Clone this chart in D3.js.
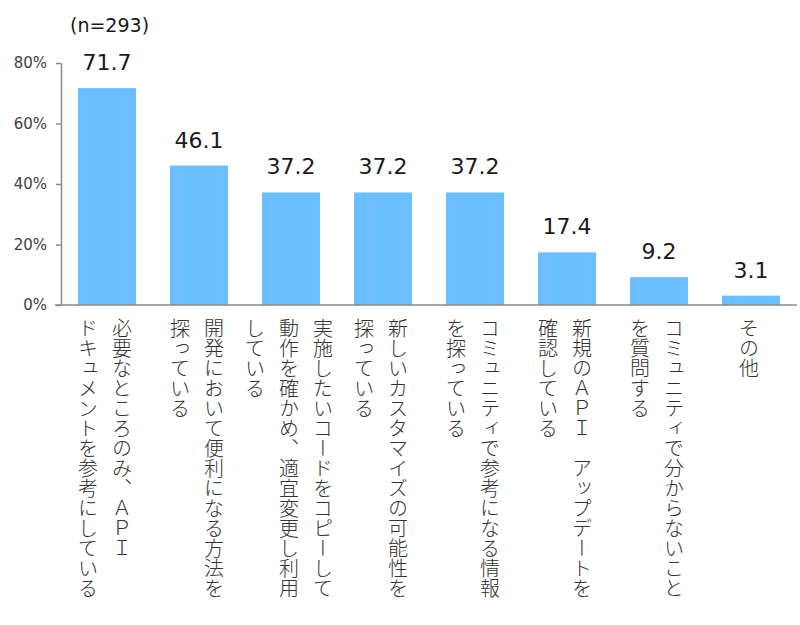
<!DOCTYPE html>
<html><head><meta charset="utf-8">
<script src="https://cdn.jsdelivr.net/npm/d3@7"></script>
<style>
html,body{margin:0;padding:0;background:#fff;}
svg{display:block;}
.vt{writing-mode:vertical-rl;}
</style></head>
<body>
<svg id="c" width="800" height="625"></svg>
<script>
const categories = ["c1","c2","c3","c4","c5","c6","c7","c8"];
const labelLines = [
  ["必要なところのみ、ＡＰＩ","ドキュメントを参考にしている"],
  ["開発において便利になる方法を","探っている"],
  ["実施したいコードをコピーして","動作を確かめ、適宜変更し利用","している"],
  ["新しいカスタマイズの可能性を","探っている"],
  ["コミュニティで参考になる情報","を探っている"],
  ["新規のＡＰＩ　アップデートを","確認している"],
  ["コミュニティで分からないこと","を質問する"],
  ["その他"]
];
const values = [71.7, 46.1, 37.2, 37.2, 37.2, 17.4, 9.2, 3.1];
const yTicks = [0, 20, 40, 60, 80];
const sampleNote = "(n=293)";

const svg = d3.select("#c");
const x = d3.scaleBand().domain(categories).range([61, 797]).paddingInner(0.37).paddingOuter(0.185);
const y = d3.scaleLinear().domain([0, 80]).range([305, 63]);

const numFont = "'DejaVu Sans', Verdana, sans-serif";
const jpFont = "'Noto Sans CJK JP', sans-serif";

// y axis
const yAxis = svg.append("g").attr("transform", "translate(61,0)")
  .call(d3.axisLeft(y).tickValues(yTicks).tickSize(5).tickPadding(9).tickFormat(d => d + "%").tickSizeOuter(0));
yAxis.selectAll("path,line").attr("stroke", "#8a8a8a").attr("stroke-width", 1.5);
yAxis.selectAll("text").attr("font-family", numFont).attr("font-size", 15).attr("fill", "#404040");

// bars
svg.append("g").selectAll("rect").data(values).join("rect")
  .attr("x", (d, i) => x(categories[i]))
  .attr("width", x.bandwidth())
  .attr("y", d => y(d))
  .attr("height", d => y(0) - y(d))
  .attr("fill", "#6bbeff");

// x axis line
svg.append("line").attr("x1", 55).attr("x2", 797).attr("y1", y(0)).attr("y2", y(0))
  .attr("stroke", "#8a8a8a").attr("stroke-width", 1.5);

// value labels
svg.append("g").selectAll("text").data(values).join("text")
  .attr("x", (d, i) => x(categories[i]) + x.bandwidth() / 2)
  .attr("y", d => y(d) - 18)
  .attr("text-anchor", "middle")
  .attr("font-family", numFont).attr("font-size", 22).attr("fill", "#1a1a1a")
  .text(d => d.toFixed(1));

// category labels (vertical)
const colGap = 34;
const lg = svg.append("g");
labelLines.forEach((lines, i) => {
  const cx = x(categories[i]) + x.bandwidth() / 2;
  const n = lines.length;
  lines.forEach((ln, j) => {
    lg.append("text").attr("class", "vt")
      .attr("x", cx + ((n - 1) / 2 - j) * colGap - 2)
      .attr("y", 318)
      .attr("font-family", jpFont).attr("font-size", 20).attr("font-weight", 300).attr("fill", "#333")
      .text(ln);
  });
});

// n note
svg.append("text").attr("x", 70).attr("y", 32)
  .attr("font-family", numFont).attr("font-size", 19).attr("fill", "#1a1a1a")
  .text(sampleNote);
</script>
</body></html>
